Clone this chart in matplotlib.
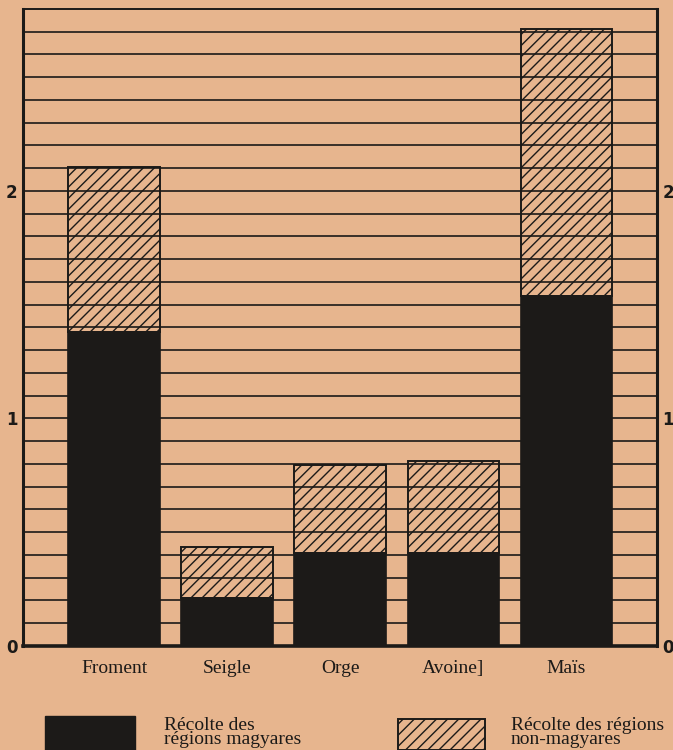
import matplotlib.pyplot as plt
from matplotlib.patches import Rectangle
import numpy as np

# data (in arbitrary units)
cultures = ['Froment', 'Seigle', 'Orge', 'Avoine]', 'Maïs']
magyares = [1.38, 0.21, 0.41, 0.41, 1.54]
non_magyares = [0.725, 0.225, 0.385, 0.405, 1.17]
yticks = [0, 1, 2]

bg = '#e7b58e'
ink = '#1c1a18'

plt.rcParams['hatch.linewidth'] = 1.0
plt.rcParams['hatch.color'] = ink

fig = plt.figure(figsize=(6.73, 7.5), dpi=100, facecolor=bg)
ax = fig.add_axes([0.0342, 0.1387, 0.942, 0.8493])
ax.set_facecolor(bg)

x = np.arange(len(cultures))
w = 0.81

# horizontal rules every 0.1
for y in np.arange(0.1, 2.8, 0.1):
    ax.axhline(y, color=ink, lw=1.2, zorder=1)

ax.bar(x, magyares, width=w, color=ink, edgecolor=ink, lw=1.2, zorder=3)
ax.bar(x, non_magyares, bottom=magyares, width=w, facecolor='none',
       edgecolor=ink, hatch='///', lw=1.4, zorder=3)

ax.set_xlim(-0.805, 4.8)
ax.set_ylim(0, 2.8)

for s in ['left', 'right']:
    ax.spines[s].set_linewidth(2.2)
    ax.spines[s].set_color(ink)
ax.spines['bottom'].set_linewidth(2.6)
ax.spines['top'].set_linewidth(1.4)
ax.spines['bottom'].set_color(ink)
ax.spines['top'].set_color(ink)

ax.set_yticks(yticks)
ax.set_yticklabels([str(v) for v in yticks])
ax.tick_params(axis='y', length=0, pad=4, labelsize=12, labelcolor=ink,
               left=True, right=True, labelleft=True, labelright=True)
for lab in ax.get_yticklabels():
    lab.set_fontweight('bold')

ax.set_xticks(x)
ax.set_xticklabels(cultures, family='Liberation Serif', fontsize=14, color=ink)
ax.tick_params(axis='x', length=0, pad=10)

# legend drawn by hand at the bottom
fig.patches.append(Rectangle((0.067, -0.01), 0.134, 0.055, transform=fig.transFigure,
                             facecolor=ink, edgecolor=ink))
fig.text(0.243, 0.002, 'Récolte des\nrégions magyares', family='Liberation Serif',
         fontsize=14, color=ink, linespacing=0.82, va='bottom')
fig.patches.append(Rectangle((0.592, 0.0), 0.128, 0.042, transform=fig.transFigure,
                             facecolor='none', edgecolor=ink, hatch='///', lw=1.4))
fig.text(0.759, 0.002, 'Récolte des régions\nnon-magyares', family='Liberation Serif',
         fontsize=14, color=ink, linespacing=0.82, va='bottom')

plt.savefig('out.png', facecolor=bg)
